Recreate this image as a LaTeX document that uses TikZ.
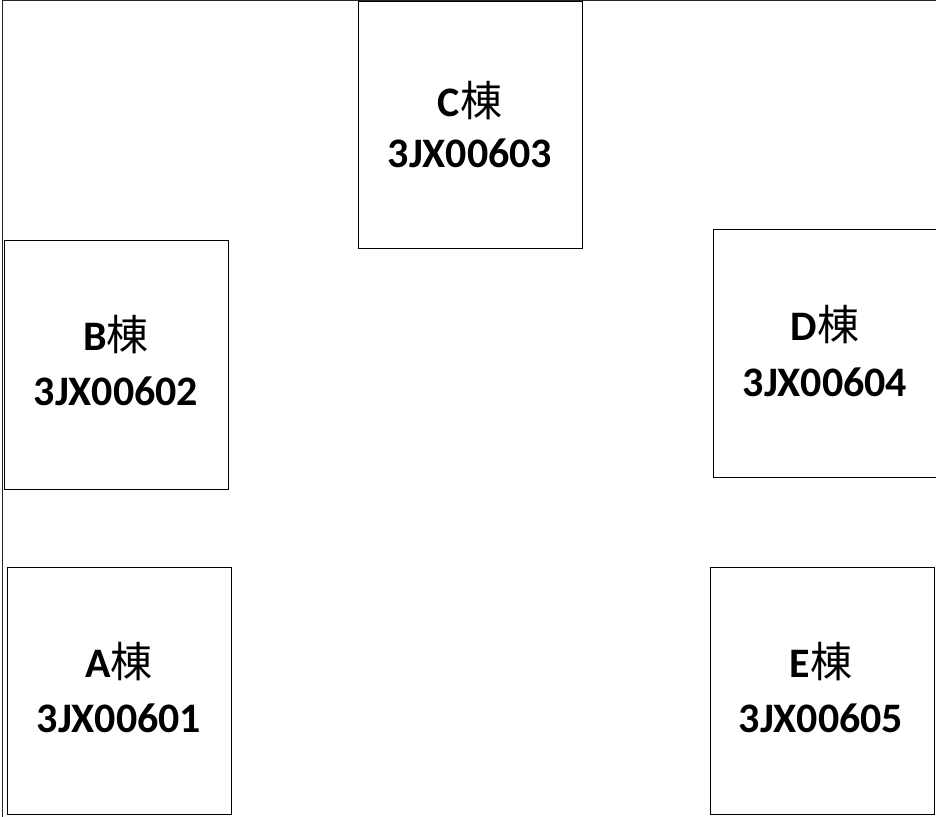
\documentclass[tikz,border=0pt]{standalone}
\usepackage{fontspec}
\setmainfont{Carlito}
\newfontfamily\cjk{Noto Sans CJK JP}
\begin{document}
\begin{tikzpicture}[x=1pt,y=-1pt,
  bldg/.style={draw=black,line width=1pt,rectangle,inner sep=0pt,minimum width=224pt,anchor=north west},
  lbl/.style={anchor=base,inner sep=0pt,font=\fontsize{42}{50}\selectfont\bfseries}]
\clip (0,0) rectangle (936,816);
\fill[white] (0,0) rectangle (936,816);
% outer frame (top and left)
\coordinate (tl) at (2.5,1);
\coordinate (tr) at (940,1);
\coordinate (bl) at (2.5,820);
\draw[line width=1pt,black!85] (tr) -- (tl) -- (bl);
% buildings
\node[bldg,minimum height=247pt] (C) at (358,1) {};
\node[bldg,minimum height=249pt] (B) at (4,240) {};
\node[bldg,minimum height=247pt] (A) at (7,567) {};
\node[bldg,minimum height=248pt] (D) at (713,229) {};
\node[bldg,minimum height=247pt] (E) at (710,567) {};
% labels
\node[lbl] (Ct) at (470,116) {C{\cjk\mdseries 棟}};
\node[lbl] (Cn) at (470,167) {3JX00603};
\node[lbl] (Bt) at (116,350) {B{\cjk\mdseries 棟}};
\node[lbl] (Bn) at (116,405) {3JX00602};
\node[lbl] (Dt) at (825,340) {D{\cjk\mdseries 棟}};
\node[lbl] (Dn) at (825,396) {3JX00604};
\node[lbl] (At) at (119,677) {A{\cjk\mdseries 棟}};
\node[lbl] (An) at (119,732) {3JX00601};
\node[lbl] (Et) at (821,677) {E{\cjk\mdseries 棟}};
\node[lbl] (En) at (821,732) {3JX00605};
\end{tikzpicture}
\end{document}
